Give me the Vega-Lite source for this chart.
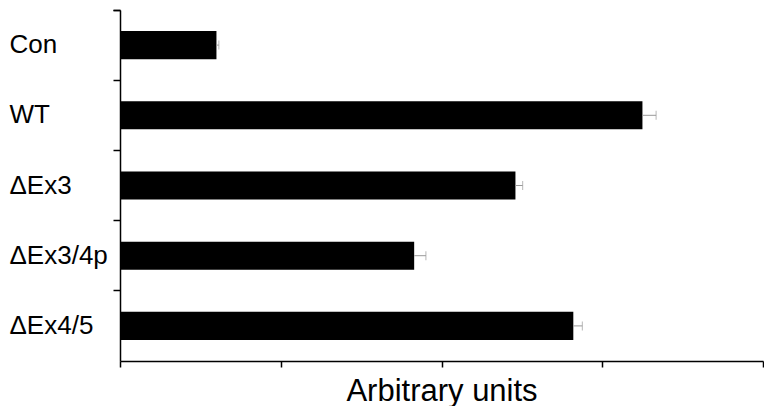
{
  "$schema": "https://vega.github.io/schema/vega-lite/v6.json",
  "width": 643,
  "height": 351,
  "autosize": {"type": "none"},
  "padding": {"left": 120, "top": 10, "right": 1, "bottom": 45},
  "config": {"view": {"stroke": null}, "font": "Liberation Sans", "axis": {"grid": false}},
  "data": {
    "values": [
      {"group": "Con", "value": 0.60, "upper": 0.615},
      {"group": "WT", "value": 3.25, "upper": 3.335},
      {"group": "ΔEx3", "value": 2.46, "upper": 2.505},
      {"group": "ΔEx3/4p", "value": 1.83, "upper": 1.903},
      {"group": "ΔEx4/5", "value": 2.82, "upper": 2.876}
    ]
  },
  "encoding": {
    "y": {
      "field": "group",
      "type": "nominal",
      "sort": null,
      "scale": {"paddingInner": 0, "paddingOuter": 0},
      "axis": {
        "title": null,
        "ticks": true,
        "tickSize": 7,
        "tickWidth": 1.5,
        "tickColor": "black",
        "bandPosition": 0,
        "tickExtra": true,
        "domainColor": "black",
        "domainWidth": 1.5,
        "labelAlign": "left",
        "labelBaseline": "middle",
        "labelPadding": 104,
        "labelFontSize": 26,
        "labelColor": "black",
        "labelFont": "Liberation Sans"
      }
    }
  },
  "layer": [
    {
      "mark": {"type": "bar", "color": "black", "height": {"band": 0.4}},
      "encoding": {
        "x": {
          "field": "value",
          "type": "quantitative",
          "scale": {"domain": [0, 4], "nice": false},
          "axis": {
            "title": "Arbitrary units",
            "titleFontSize": 31,
            "titleFontWeight": "normal",
            "titleColor": "black",
            "titleFont": "Liberation Sans",
            "titlePadding": 9,
            "labels": false,
            "values": [0, 1, 2, 3, 4],
            "tickSize": 6,
            "tickWidth": 1.5,
            "tickColor": "black",
            "domainColor": "black",
            "domainWidth": 1.5
          }
        }
      }
    },
    {
      "mark": {"type": "rule", "color": "#999999", "strokeWidth": 1},
      "encoding": {
        "x": {"field": "value", "type": "quantitative"},
        "x2": {"field": "upper"}
      }
    },
    {
      "mark": {"type": "tick", "color": "#999999", "thickness": 1, "size": 9},
      "encoding": {
        "x": {"field": "upper", "type": "quantitative"}
      }
    }
  ]
}
